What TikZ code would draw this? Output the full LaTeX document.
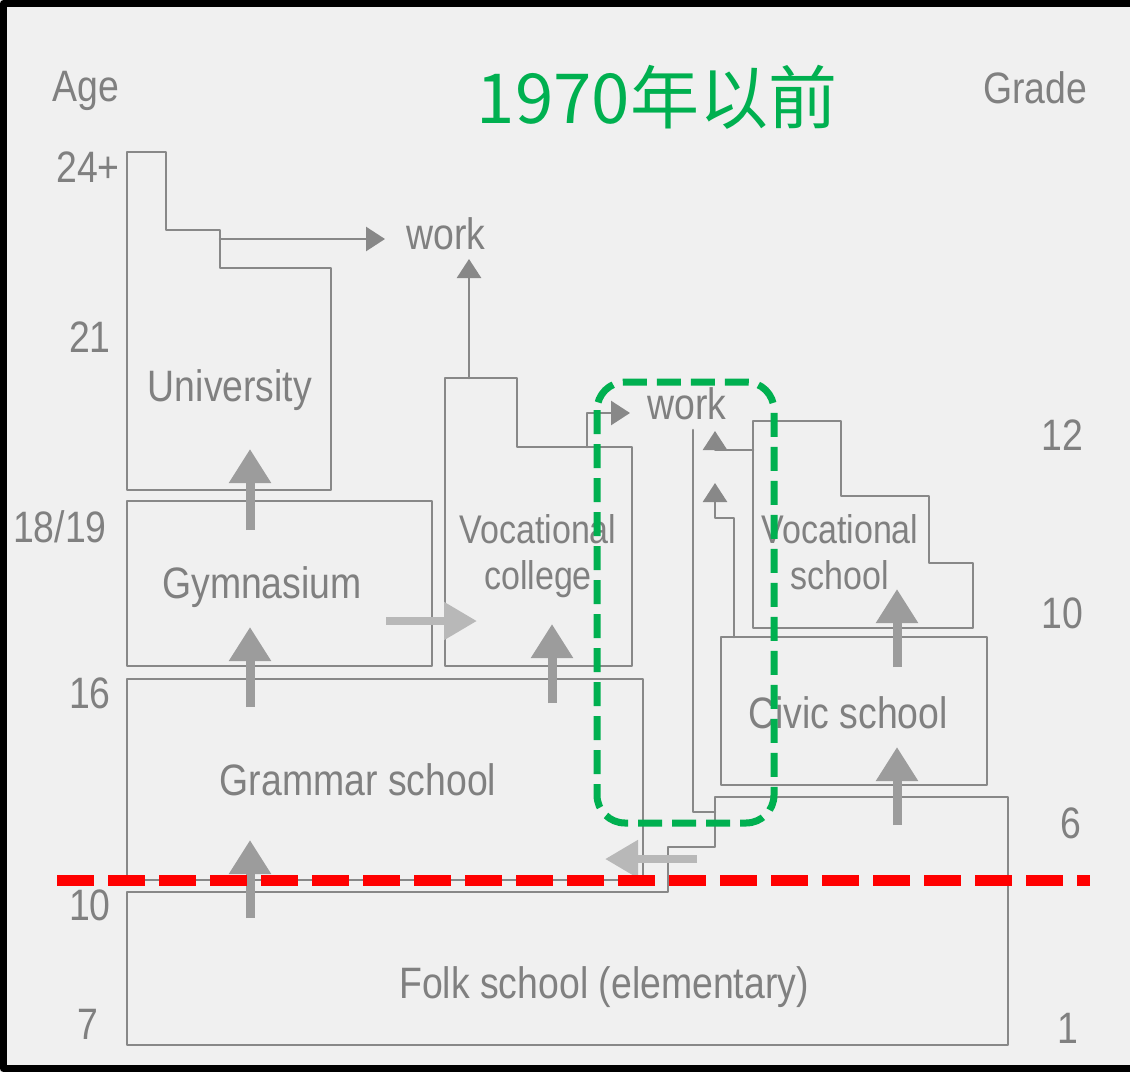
\documentclass[tikz,border=0pt]{standalone}
\usepackage{fontspec}
\newfontfamily\condfont[FakeStretch=0.85]{Liberation Sans}
\newfontfamily\cjk{Noto Sans CJK SC}
\usetikzlibrary{arrows.meta}
\definecolor{paper}{HTML}{F0F0F0}
\definecolor{linegray}{HTML}{888888}
\definecolor{txtgray}{HTML}{808080}
\definecolor{arrgray}{HTML}{9C9C9C}
\definecolor{lightgray}{HTML}{B8B8B8}
\definecolor{titlegreen}{HTML}{00B050}

\begin{document}
\begin{tikzpicture}[line cap=round,line join=round,x=1pt,y=-1pt,
  box/.style={draw=linegray,line width=2.6pt},
  lbl/.style={text=txtgray,font=\condfont\fontsize{44}{46}\selectfont,inner sep=0pt},
  twolbl/.style={text=txtgray,font=\condfont\fontsize{40}{46}\selectfont,inner sep=0pt,align=center},
  thinarr/.style={draw=linegray,line width=2.6pt,-{Triangle[length=19pt,width=24pt]}},
  bigup/.style={draw=arrgray,line width=9pt,line cap=butt,-{Triangle[length=34pt,width=40pt]}},
  lightarr/.style={draw=lightgray,line width=8pt,line cap=butt,-{Triangle[length=33pt,width=36pt]}}]
\useasboundingbox (0,0) rectangle (1130,1072);
\fill[paper] (0,0) rectangle (1130,1072);
\draw[black,line width=7pt,line cap=butt] (1130,3.5) -- (3.5,3.5) -- (3.5,1068.5) -- (1130,1068.5);
% title
\node[font=\cjk\fontsize{69}{74}\selectfont,text=titlegreen,anchor=base,inner sep=0pt] (title) at (657,123) {1970年以前};
% ages / grades
\foreach \t/\xx/\yy [count=\i] in {Age/86/101,{24+}/88/182,21/90/352,{18/19}/60/542,16/90/708,10/90/920,7/88/1039}
  \node[lbl,anchor=base] (age\i) at (\xx,\yy) {\t};
\foreach \t/\xx/\yy [count=\i] in {Grade/1035/103,12/1062/450,10/1062/628,6/1071/838,1/1068/1043}
  \node[lbl,anchor=base] (grade\i) at (\xx,\yy) {\t};
% schools
\draw[box] (127,152) -- (166,152) -- (166,230) -- (220,230) -- (220,268) -- (331,268) -- (331,490) -- (127,490) -- cycle;
\draw[box] (127,501) rectangle (432,666);
\draw[box] (445,378) -- (517,378) -- (517,447) -- (632,447) -- (632,666) -- (445,666) -- cycle;
\draw[box] (127,679) rectangle (643,880);
\draw[box] (127,892) -- (668,892) -- (668,847) -- (715,847) -- (715,797) -- (1008,797) -- (1008,1045) -- (127,1045) -- cycle;
\draw[box] (753,421) -- (841,421) -- (841,496) -- (929,496) -- (929,563) -- (973,563) -- (973,628) -- (753,628) -- cycle;
\draw[box] (721,637) rectangle (987,785);
\node[lbl,anchor=base] (uni) at (230,401) {University};
\node[lbl,anchor=base] (gym) at (262,598) {Gymnasium};
\node[twolbl] (vcol) at (538,556) {Vocational\\college};
\node[twolbl] (vsch) at (840,552) {Vocational\\school};
\node[lbl,anchor=base] (civic) at (848,728) {Civic school};
\node[lbl,anchor=base] (gram) at (358,795) {Grammar school};
\node[lbl,anchor=base] (folk) at (604,998) {Folk school (elementary)};
\node[lbl,anchor=base] (work1) at (446,249) {work};
\node[lbl,anchor=base] (work2) at (687,419) {work};
% to work
\coordinate (w1) at (385,239);
\coordinate (w2) at (469,259);
\coordinate (w3) at (630,413);
\draw[thinarr] (220,239) -- (w1);
\draw[thinarr] (469,378) -- (w2);
\draw[thinarr] (587,447) -- (587,413) -- (w3);
\draw[box] (715,812) -- (693,812) -- (693,430);
\draw[thinarr] (753,450) -- (715,450) -- (715,431);
\draw[thinarr] (734,637) -- (734,518) -- (715,518) -- (715,483);
% big arrows
\draw[bigup] (250,530) -- (250,449);
\draw[bigup] (250,707) -- (250,627);
\draw[bigup] (250,918) -- (250,840);
\draw[bigup] (552,703) -- (552,624);
\draw[bigup] (897,667) -- (897,589);
\draw[bigup] (897,825) -- (897,747);
\draw[lightarr] (386,621) -- (477,621);
\draw[lightarr] (697,859) -- (605,859);
% marks
\draw[titlegreen,line width=7pt,line cap=butt,dash pattern=on 24pt off 10pt,rounded corners=28pt] (597,382) rectangle (774,823);
\draw[red,line width=11pt,line cap=butt,dash pattern=on 37pt off 14pt] (57,880) -- (1090,880);
\end{tikzpicture}
\end{document}
